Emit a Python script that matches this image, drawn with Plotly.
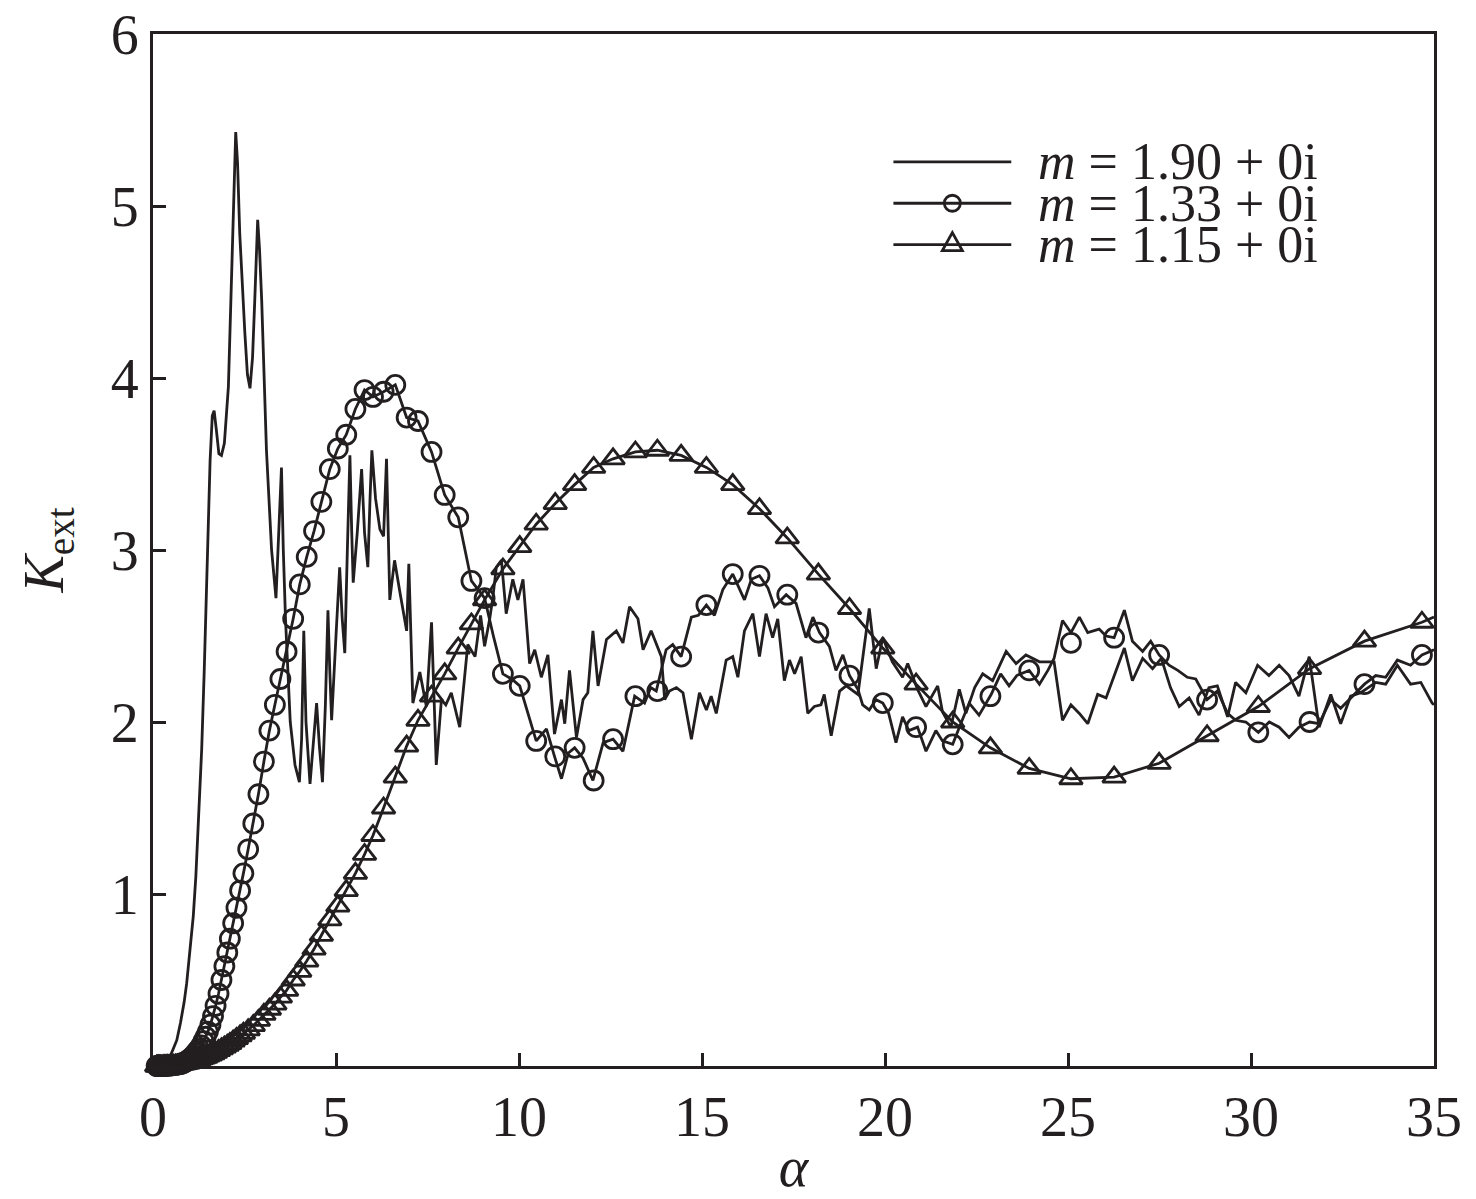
import plotly.graph_objects as go

INK = "#231f20"
SERIF = "Times New Roman, Liberation Serif, serif"

# size parameter grid used for the circle / triangle markers
mark_alpha = [
    0.10, 0.12, 0.14, 0.16, 0.18, 0.20, 0.22, 0.25, 0.28, 0.31,
    0.34, 0.37, 0.40, 0.44, 0.48, 0.52, 0.56, 0.61, 0.66, 0.71,
    0.76, 0.81, 0.86, 0.91, 0.96, 1.01, 1.06, 1.11, 1.16, 1.21,
    1.26, 1.32, 1.38, 1.44, 1.50, 1.57, 1.64, 1.71, 1.79, 1.87,
    1.95, 2.03, 2.10, 2.19, 2.28, 2.38, 2.47, 2.60, 2.74, 2.88,
    3.03, 3.18, 3.33, 3.48, 3.65, 3.83, 4.01, 4.20, 4.40, 4.60,
    4.83, 5.05, 5.28, 5.53, 5.78, 6.01, 6.30, 6.62, 6.93, 7.24,
    7.61, 7.97, 8.34, 8.70, 9.06, 9.56, 10.02, 10.47, 10.99, 11.52,
    12.04, 12.57, 13.18, 13.78, 14.43, 15.12, 15.84, 16.57, 17.33, 18.18,
    19.03, 19.94, 20.85, 21.85, 22.88, 23.94, 25.08, 26.26, 27.49, 28.80,
    30.20, 31.60, 33.10, 34.67,
]

# m = 1.33 + 0i at the marker grid
k133_mark = [
    0.000, 0.000, 0.000, 0.000, 0.000, 0.000, 0.000, 0.000, 0.001, 0.001,
    0.001, 0.001, 0.002, 0.002, 0.003, 0.004, 0.005, 0.006, 0.008, 0.010,
    0.012, 0.016, 0.021, 0.027, 0.034, 0.042, 0.051, 0.062, 0.074, 0.088,
    0.10, 0.12, 0.145, 0.17, 0.20, 0.24, 0.29, 0.35, 0.42, 0.50,
    0.58, 0.66, 0.74, 0.83, 0.92, 1.02, 1.12, 1.26, 1.41, 1.58,
    1.77, 1.95, 2.10, 2.25, 2.41, 2.60, 2.80, 2.96, 3.11, 3.28,
    3.47, 3.59, 3.67, 3.82, 3.93, 3.89, 3.92, 3.96, 3.77, 3.75,
    3.57, 3.32, 3.19, 2.82, 2.72, 2.28, 2.21, 1.89, 1.80, 1.85,
    1.66, 1.90, 2.15, 2.18, 2.38, 2.68, 2.86, 2.85, 2.74, 2.52,
    2.27, 2.11, 1.97, 1.87, 2.15, 2.30, 2.46, 2.49, 2.39, 2.13,
    1.94, 2.00, 2.22, 2.39,
]

# m = 1.15 + 0i at the marker grid
k115_mark = [
    0.000, 0.000, 0.000, 0.000, 0.000, 0.000, 0.000, 0.000, 0.001, 0.001,
    0.001, 0.001, 0.002, 0.002, 0.003, 0.003, 0.004, 0.005, 0.006, 0.008,
    0.009, 0.011, 0.013, 0.015, 0.017, 0.020, 0.023, 0.026, 0.029, 0.033,
    0.037, 0.041, 0.046, 0.051, 0.057, 0.064, 0.071, 0.080, 0.090, 0.10,
    0.11, 0.12, 0.13, 0.145, 0.16, 0.175, 0.19, 0.21, 0.235, 0.265,
    0.30, 0.33, 0.36, 0.40, 0.44, 0.50, 0.55, 0.61, 0.68, 0.76,
    0.85, 0.93, 1.02, 1.12, 1.23, 1.34, 1.50, 1.68, 1.86, 2.01,
    2.15, 2.28, 2.43, 2.57, 2.71, 2.89, 3.02, 3.15, 3.27, 3.38,
    3.48, 3.53, 3.57, 3.58, 3.55, 3.48, 3.38, 3.24, 3.07, 2.86,
    2.66, 2.43, 2.22, 2.00, 1.85, 1.73, 1.67, 1.68, 1.76, 1.92,
    2.09, 2.31, 2.47, 2.58,
]
k115_end_alpha = [35.0]
k115_end = [2.61]

# fine-resolution tail of the m = 1.33 curve (ripples between markers)
k133_tail_alpha = [
    9.06, 9.30, 9.56, 9.80, 10.02, 10.47, 10.75, 10.97, 11.16, 11.35,
    11.52, 11.75, 12.02, 12.30, 12.57, 12.84, 13.16, 13.43, 13.60, 13.75,
    14.02, 14.20, 14.43, 14.71, 14.90, 15.12, 15.34, 15.57, 15.84, 16.16,
    16.35, 16.57, 16.80, 16.98, 17.30, 17.57, 17.84, 18.03, 18.21, 18.48,
    18.66, 18.85, 19.03, 19.26, 19.39, 19.57, 19.75, 19.94, 20.10, 20.30,
    20.48, 20.65, 20.89, 21.12, 21.39, 21.57, 21.85, 22.07, 22.30, 22.57,
    22.90, 23.16, 23.39, 23.60, 23.94, 24.22, 24.45, 24.62, 24.85, 25.08,
    25.31, 25.54, 25.85, 26.04, 26.26, 26.54, 26.76, 27.04, 27.26, 27.49,
    27.76, 28.00, 28.26, 28.49, 28.80, 29.08, 29.36, 29.58, 29.86, 30.20,
    30.50, 30.77, 31.04, 31.31, 31.60, 31.86, 32.18, 32.45, 32.72, 33.10,
    33.41, 33.68, 34.00, 34.36, 34.67, 35.00,
]
k133_tail = [
    2.72, 2.50, 2.28, 2.25, 2.21, 1.89, 1.96, 1.80, 1.67, 1.82,
    1.85, 1.79, 1.66, 1.88, 1.90, 1.83, 2.15, 2.11, 2.20, 2.18,
    2.42, 2.45, 2.38, 2.61, 2.62, 2.68, 2.62, 2.77, 2.86, 2.71,
    2.83, 2.85, 2.78, 2.67, 2.74, 2.69, 2.49, 2.61, 2.52, 2.44,
    2.30, 2.39, 2.27, 2.19, 2.10, 2.07, 2.13, 2.11, 2.05, 1.88,
    2.03, 1.95, 1.97, 1.83, 1.95, 1.89, 1.87, 1.99, 2.11, 2.04,
    2.16, 2.28, 2.21, 2.27, 2.30, 2.22, 2.30, 2.37, 2.59, 2.52,
    2.61, 2.52, 2.54, 2.50, 2.49, 2.65, 2.47, 2.41, 2.47, 2.39,
    2.33, 2.30, 2.26, 2.25, 2.13, 2.18, 2.05, 2.01, 2.00, 1.94,
    2.00, 1.97, 1.91, 1.97, 2.00, 1.99, 2.13, 2.08, 2.14, 2.22,
    2.27, 2.26, 2.36, 2.33, 2.39, 2.42,
]

# m = 1.90 + 0i (line only)
k190_alpha = [
    0.00, 0.20, 0.30, 0.40, 0.46, 0.55, 0.65, 0.75, 0.85, 0.92,
    1.00, 1.10, 1.17, 1.24, 1.33, 1.40, 1.47, 1.56, 1.62, 1.67,
    1.73, 1.80, 1.87, 1.95, 2.06, 2.15, 2.22, 2.26, 2.31, 2.37,
    2.51, 2.58, 2.65, 2.72, 2.78, 2.86, 2.91, 2.97, 3.10, 3.24,
    3.36, 3.44, 3.51, 3.56, 3.62, 3.75, 3.88, 4.00, 4.06, 4.12,
    4.18, 4.29, 4.38, 4.47, 4.55, 4.63, 4.71, 4.78, 4.83, 4.88,
    5.00, 5.10, 5.17, 5.24, 5.31, 5.38, 5.43, 5.47, 5.58, 5.70,
    5.78, 5.87, 5.93, 5.98, 6.08, 6.20, 6.30, 6.38, 6.47, 6.60,
    6.75, 6.93, 6.99, 7.10, 7.29, 7.47, 7.61, 7.74, 7.88, 8.00,
    8.15, 8.38, 8.60, 8.80, 8.95, 9.06, 9.20, 9.29, 9.38, 9.52,
    9.65, 9.83, 9.97, 10.11, 10.29, 10.43, 10.61, 10.79, 10.97, 11.16,
    11.25, 11.38, 11.57, 11.75, 11.88, 12.02, 12.16, 12.39, 12.66, 12.84,
    13.02, 13.25, 13.39, 13.61, 13.89, 13.98, 14.11, 14.30, 14.48, 14.71,
    14.93, 15.12, 15.25, 15.39, 15.66, 15.84, 15.98, 16.16, 16.39, 16.57,
    16.75, 16.93, 17.07, 17.25, 17.39, 17.53, 17.71, 17.89, 18.07, 18.25,
    18.34, 18.53, 18.76, 18.94, 19.26, 19.57, 19.76, 19.94, 20.20, 20.48,
    20.62, 20.89, 21.12, 21.44, 21.57, 21.80, 22.03, 22.21, 22.45, 22.67,
    22.94, 23.31, 23.58, 23.85, 24.22, 24.62, 24.85, 25.08, 25.31, 25.54,
    25.81, 26.04, 26.54, 26.76, 27.04, 27.31, 27.55, 27.80, 28.04, 28.31,
    28.58, 28.85, 29.08, 29.36, 29.58, 29.86, 30.18, 30.49, 30.77, 31.04,
    31.31, 31.59, 31.86, 32.18, 32.45, 32.72, 33.00, 33.41, 33.68, 34.00,
    34.36, 34.64, 34.95, 35.00,
]
k190 = [
    0.00, 0.001, 0.005, 0.02, 0.05, 0.09, 0.15, 0.25, 0.37, 0.48,
    0.65, 0.87, 1.10, 1.45, 1.84, 2.30, 2.81, 3.52, 3.78, 3.81,
    3.70, 3.56, 3.55, 3.62, 3.95, 4.65, 5.25, 5.43, 5.25, 4.84,
    4.26, 4.02, 3.94, 4.12, 4.45, 4.92, 4.75, 4.45, 3.58, 3.00,
    2.72, 3.10, 3.48, 3.00, 2.60, 2.00, 1.75, 1.65, 1.90, 2.53,
    2.00, 1.64, 1.90, 2.11, 1.85, 1.65, 2.10, 2.65, 2.30, 2.01,
    2.50, 2.90, 2.60, 2.40, 3.00, 3.55, 3.10, 2.81, 3.10, 3.47,
    3.10, 2.90, 3.30, 3.58, 3.30, 3.12, 3.08, 3.53, 2.71, 2.94,
    2.75, 2.53, 2.92, 2.11, 2.29, 2.09, 2.58, 1.75, 2.13, 2.10,
    2.17, 1.97, 2.45, 2.38, 2.62, 2.44, 2.60, 2.73, 2.90, 2.94,
    2.63, 2.83, 2.71, 2.83, 2.34, 2.42, 2.26, 2.39, 1.93, 2.13,
    1.99, 2.30, 1.91, 2.13, 2.17, 2.53, 2.21, 2.48, 2.53, 2.46,
    2.67, 2.60, 2.42, 2.53, 2.38, 2.13, 2.18, 2.20, 2.17, 1.90,
    2.17, 2.07, 2.15, 2.05, 2.36, 2.38, 2.26, 2.53, 2.63, 2.38,
    2.63, 2.49, 2.60, 2.24, 2.36, 2.28, 2.38, 2.05, 2.09, 2.10,
    2.16, 1.92, 2.18, 2.21, 2.16, 2.66, 2.31, 2.49, 2.35, 2.26,
    2.34, 2.19, 2.09, 2.21, 2.06, 1.97, 2.19, 2.05, 2.20, 2.28,
    2.24, 2.41, 2.34, 2.39, 2.35, 2.35, 2.01, 2.10, 2.05, 1.99,
    2.16, 2.14, 2.43, 2.24, 2.37, 2.31, 2.37, 2.20, 2.09, 2.14,
    2.04, 2.20, 2.21, 2.03, 2.23, 2.17, 2.33, 2.27, 2.33, 2.27,
    2.15, 2.38, 1.97, 2.16, 1.99, 2.15, 2.17, 2.23, 2.22, 2.33,
    2.22, 2.23, 2.11, 2.10,
]

legend_labels = ["<i>m</i> = 1.90 + 0i", "<i>m</i> = 1.33 + 0i", "<i>m</i> = 1.15 + 0i"]

LW = 2.8
line_style = dict(color=INK, width=LW)

fig = go.Figure()

fig.add_trace(go.Scatter(x=k190_alpha, y=k190, mode="lines", line=line_style))

# m = 1.33: smooth part follows the marker grid, then the rippled tail
k133_line_alpha = mark_alpha[:74] + k133_tail_alpha
k133_line = k133_mark[:74] + k133_tail
fig.add_trace(go.Scatter(x=k133_line_alpha, y=k133_line, mode="lines", line=line_style))
fig.add_trace(go.Scatter(
    x=mark_alpha, y=k133_mark, mode="markers", cliponaxis=False,
    marker=dict(symbol="circle-open", size=19, color=INK, line=dict(width=LW)),
))

fig.add_trace(go.Scatter(
    x=mark_alpha + k115_end_alpha, y=k115_mark + k115_end, mode="lines", line=line_style,
))
fig.add_trace(go.Scatter(
    x=mark_alpha, y=k115_mark, mode="markers", cliponaxis=False,
    marker=dict(symbol="triangle-up-open", size=20, color=INK, line=dict(width=LW)),
))

# hand-drawn legend (long line samples like the original)
W, H = 1281.0, 1032.0
rows = [0.876, 0.836, 0.796]
lx0, lx1, lxm, tx = 0.578, 0.670, 0.624, 0.689
shapes = []
annotations = []
for i, (ry, lab) in enumerate(zip(rows, legend_labels)):
    shapes.append(dict(type="line", xref="paper", yref="paper", x0=lx0, x1=lx1, y0=ry, y1=ry,
                       line=dict(color=INK, width=LW)))
    if i == 1:
        shapes.append(dict(type="circle", xref="paper", yref="paper",
                           x0=lxm - 8 / W, x1=lxm + 8 / W, y0=ry - 8 / H, y1=ry + 8 / H,
                           line=dict(color=INK, width=LW), fillcolor="rgba(0,0,0,0)"))
    if i == 2:
        p = "M {a},{b} L {c},{b} L {d},{e} Z".format(
            a=lxm - 10 / W, b=ry - 6 / H, c=lxm + 10 / W, d=lxm, e=ry + 12 / H)
        shapes.append(dict(type="path", xref="paper", yref="paper", path=p,
                           line=dict(color=INK, width=LW)))
    annotations.append(dict(xref="paper", yref="paper", x=tx, y=ry, text=lab, showarrow=False,
                            xanchor="left", yanchor="middle",
                            font=dict(family=SERIF, size=52, color=INK)))

axis_common = dict(
    showline=True, linewidth=3, linecolor=INK, mirror=True,
    ticks="inside", ticklen=13, tickwidth=3, tickcolor=INK,
    showgrid=False, zeroline=False, ticklabeloverflow="allow", automargin=False,
    tickfont=dict(family=SERIF, size=56, color=INK),
)

fig.update_xaxes(range=[0, 35], tickvals=[0, 5, 10, 15, 20, 25, 30, 35],
                 title=dict(text="<i>α</i>", font=dict(family=SERIF, size=56, color=INK),
                            standoff=0),
                 **axis_common)
fig.update_yaxes(range=[0, 6], tickvals=[1, 2, 3, 4, 5, 6],
                 title=dict(text="<i>K</i><sub>ext</sub>",
                            font=dict(family=SERIF, size=56, color=INK), standoff=30),
                 **axis_common)

fig.update_layout(
    width=1476, height=1199,
    margin=dict(l=153, r=42, t=34, b=133),
    plot_bgcolor="white", paper_bgcolor="white",
    showlegend=False,
    shapes=shapes, annotations=annotations,
    font=dict(family=SERIF, color=INK),
)

# drop the default page margin so the figure sits at the window's corner
fig.write_html("out.html", config={"displayModeBar": False},
               post_script="document.body.style.margin = '0';")
